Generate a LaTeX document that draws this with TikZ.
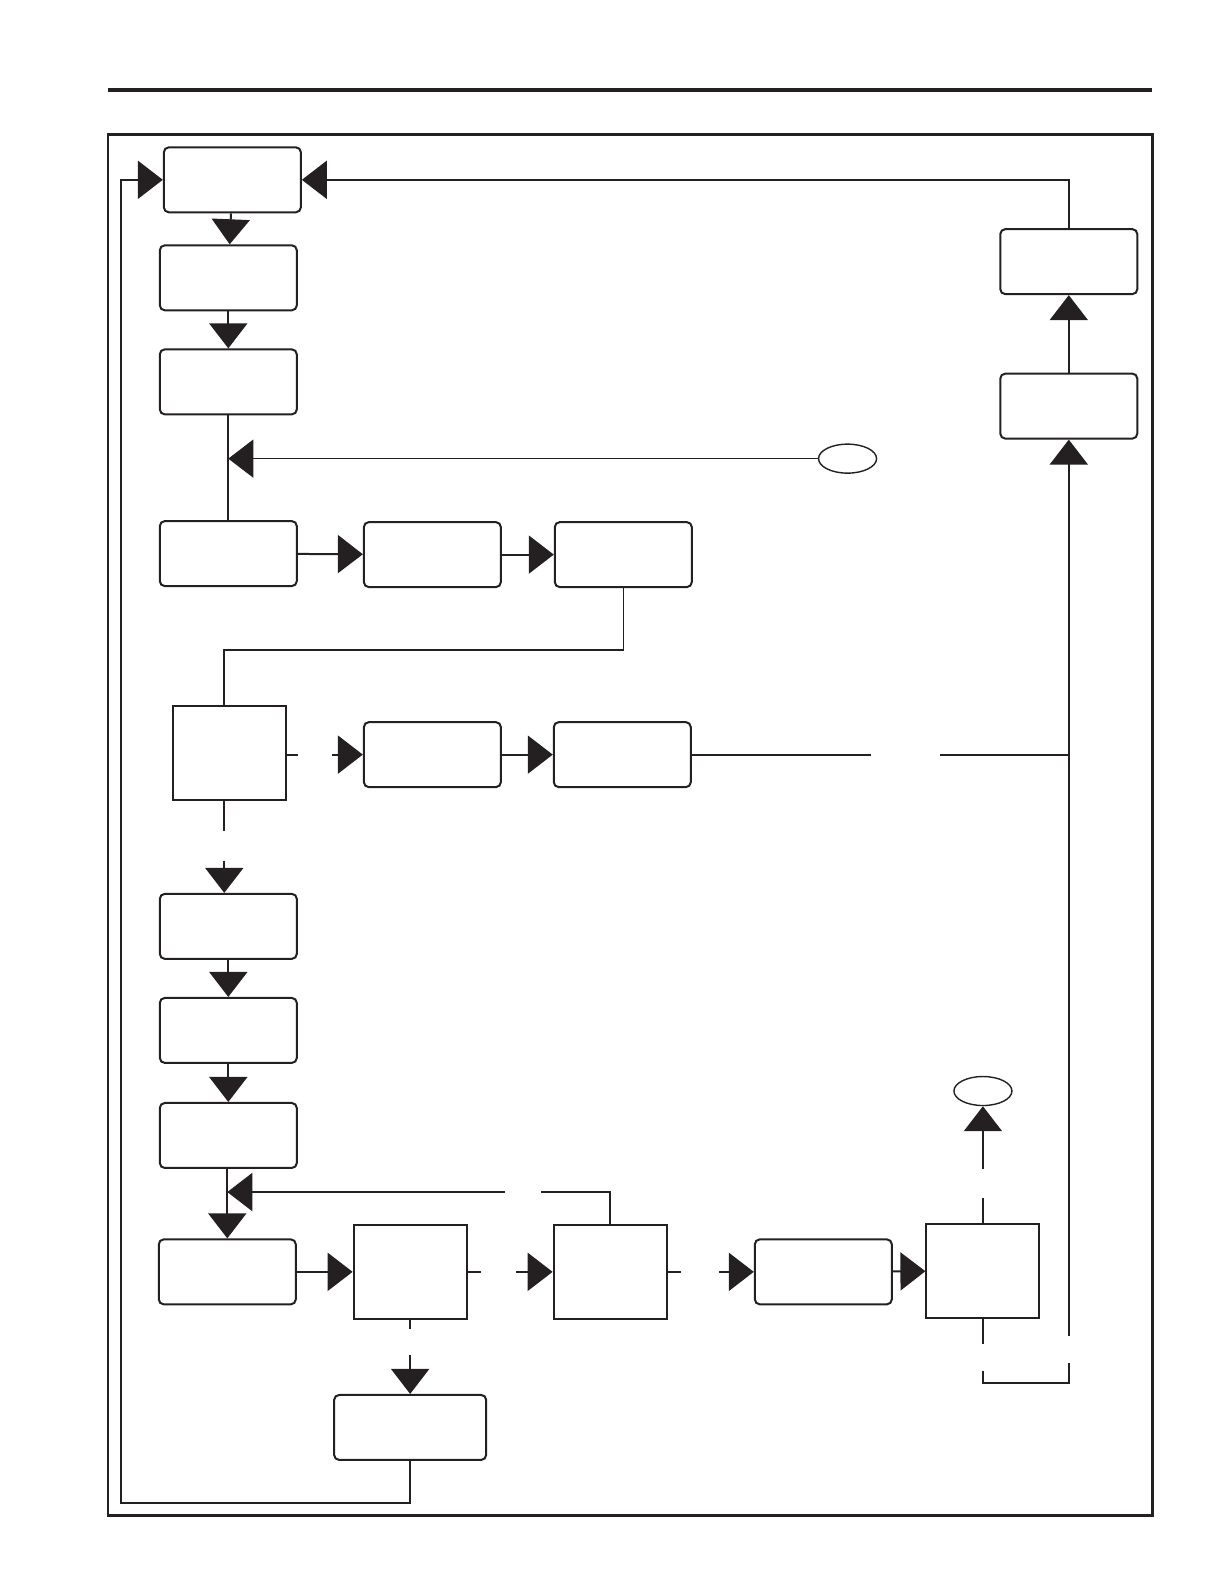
\documentclass[tikz,border=0pt]{standalone}
\usepackage{xcolor}
\usepackage{tikz}
\usetikzlibrary{arrows.meta, positioning, shapes.geometric}
\definecolor{ink}{rgb}{0.14, 0.12, 0.13}
\tikzstyle{arrow} = [line width=1pt, draw=ink, -{Triangle[length=12.5pt, width=19pt]}]
\tikzstyle{link} = [line width=1pt, draw=ink]

\begin{document}
\begin{tikzpicture}[
    x=0.505pt, y=-0.505pt,
    box/.style={
        rectangle,
        rounded corners=2.5pt,
        minimum width=68.5pt,
        minimum height=32.5pt,
        inner sep=0pt,
        draw=ink,
        line width=1pt
    },
    square/.style={
        rectangle,
        minimum width=56.5pt,
        minimum height=47pt,
        inner sep=0pt,
        draw=ink,
        line width=1pt
    },
    oval/.style={
        ellipse,
        minimum width=29pt,
        minimum height=14.5pt,
        inner sep=0pt,
        draw=ink,
        line width=0.7pt
    }
]
    \useasboundingbox (0,0) rectangle (1212,1568);

    % page rule and frame
    \draw[line width=1.6pt, ink] (107,89) -- (1140,89);
    \draw[line width=1.4pt, ink] (107,133) rectangle (1141,1500);

    % left column
    \node[box] (start) at (230,178) {};
    \node[box] (stepa) at (226,275) {};
    \node[box] (stepb) at (226,378) {};
    \node[box] (stepc) at (226,548) {};
    \node[box] (side1) at (428,549) {};
    \node[box] (side2) at (617,549) {};
    \node[oval] (endA) at (839,454) {};

    \node[square] (decide1) at (227,745) {};
    \node[box] (branch1) at (428,747) {};
    \node[box] (branch2) at (616,747) {};

    \node[box] (stepd) at (226,917) {};
    \node[box] (stepe) at (226,1020) {};
    \node[box] (stepf) at (226,1124) {};
    \node[box] (stepg) at (225,1259) {};

    % bottom row
    \node[square] (decide2) at (406,1259) {};
    \node[square] (decide3) at (604,1259) {};
    \node[box] (branch3) at (815,1259) {};
    \node[square] (decide4) at (973,1258) {};
    \node[oval] (endB) at (973,1080) {};
    \node[box, minimum width=76pt] (retry) at (406,1413) {};

    % right column
    \node[box] (right1) at (1058,402) {};
    \node[box] (right2) at (1058,259) {};

    % gap ends
    \coordinate (gapa1) at (295,747);
    \coordinate (gapa2) at (329,747);
    \coordinate (gapb1) at (862,747);
    \coordinate (gapb2) at (930,747);
    \coordinate (gapc1) at (222,823);
    \coordinate (gapc2) at (222,852);
    \coordinate (gapd1) at (500,1180);
    \coordinate (gapd2) at (536,1180);
    \coordinate (gape1) at (476,1259);
    \coordinate (gape2) at (511,1259);
    \coordinate (gapf1) at (674,1259);
    \coordinate (gapf2) at (712,1259);
    \coordinate (gapg1) at (973,1186);
    \coordinate (gapg2) at (973,1157);
    \coordinate (gaph1) at (973,1330);
    \coordinate (gaph2) at (973,1357);
    \coordinate (gapi1) at (406,1316);
    \coordinate (gapi2) at (406,1341);
    \coordinate (rbot) at (1058,1322);
    \coordinate (rgap) at (1058,1349);
    \coordinate (rcorner) at (1058,1369);
    \coordinate (loop) at (120,1488);

    \draw[arrow] (start) -- (stepa);
    \draw[arrow] (stepa) -- (stepb);
    \draw[link] (stepb) -- (stepc);
    \draw[arrow, line width=0.7pt] (endA) -- (stepb.south |- endA);
    \draw[arrow] (stepc) -- (side1);
    \draw[arrow] (side1) -- (side2);
    \draw[link, line width=0.8pt] (side2.south) -- ++(0,61) -| (gapc1 |- decide1.north);

    \draw[link] (decide1.east |- gapa1) -- (gapa1);
    \draw[arrow] (gapa2) -- (branch1);
    \draw[arrow] (branch1) -- (branch2);
    \draw[link] (branch2) -- (gapb1);
    \draw[link] (gapb2) -- (rbot |- gapb2);
    \draw[arrow] (rbot) -- (right1);
    \draw[arrow] (right1) -- (right2);
    \draw[arrow] (right2.north) |- (start.east);

    \draw[link] (gapc1 |- decide1.south) -- (gapc1);
    \draw[arrow] (gapc2) -- (gapc2 |- stepd.north);
    \draw[arrow] (stepd) -- (stepe);
    \draw[arrow] (stepe) -- (stepf);
    \draw[arrow] (stepf.south -| stepg.north) -- (stepg);
    \draw[link] (decide3.north) |- (gapd2);
    \draw[arrow] (gapd1) -- (stepg.north |- gapd1);

    \draw[arrow] (stepg) -- (decide2);
    \draw[link] (decide2.east) -- (gape1);
    \draw[arrow] (gape2) -- (decide3);
    \draw[link] (decide3.east) -- (gapf1);
    \draw[arrow] (gapf2) -- (branch3);
    \draw[arrow] (branch3) -- (decide4);
    \draw[link] (decide4.north) -- (gapg1);
    \draw[arrow] (gapg2) -- (endB);
    \draw[link] (decide4.south) -- (gaph1);
    \draw[link] (gaph2) |- (rcorner) -- (rgap);

    \draw[link] (decide2.south) -- (gapi1);
    \draw[arrow] (gapi2) -- (retry);
    \draw[arrow] (retry.south) |- (loop) |- (start.west);
\end{tikzpicture}
\end{document}
